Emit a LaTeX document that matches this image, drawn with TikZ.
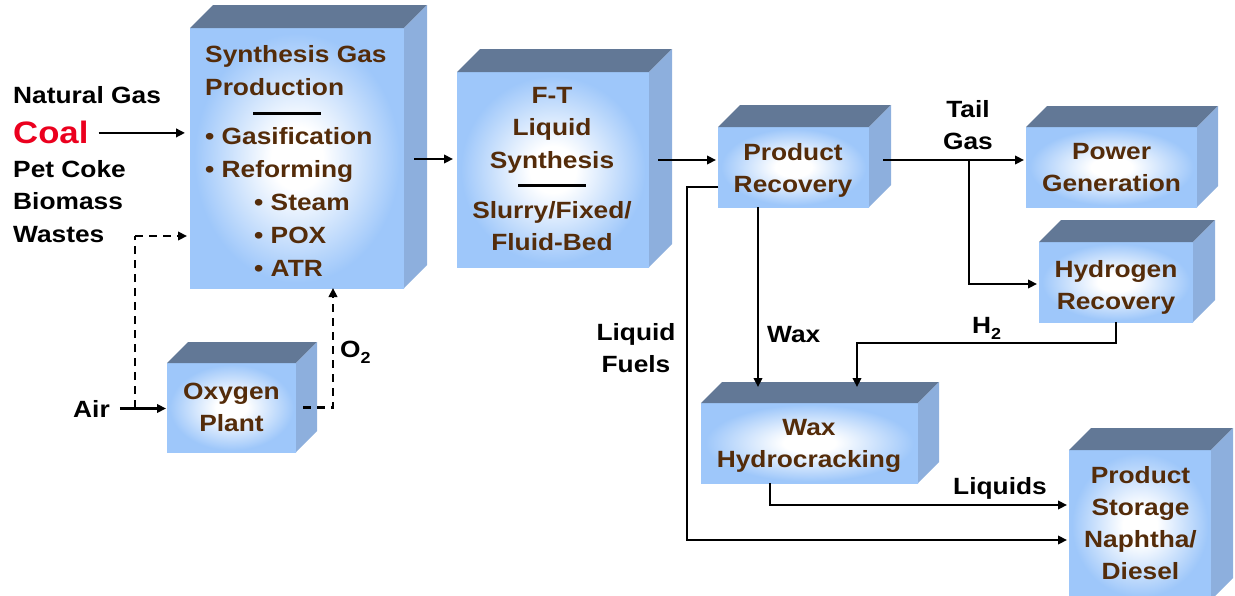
\documentclass[tikz,border=0pt]{standalone}
\usepackage{fontspec}
\setmainfont{Liberation Sans}[FakeStretch=1.12]
\usetikzlibrary{arrows.meta,calc,fit}
\definecolor{topc}{RGB}{98,120,150}
\definecolor{sidec}{RGB}{141,175,221}
\definecolor{frontc}{RGB}{158,199,250}
\definecolor{txtc}{RGB}{84,44,10}
\definecolor{coalred}{RGB}{235,0,30}
\pgfdeclareradialshading{frontshade}{\pgfpoint{0bp}{0bp}}{color(0bp)=(white); color(6bp)=(white); color(15bp)=(frontc!50!white); color(24bp)=(frontc); color(50bp)=(frontc)}
\tikzset{
  front/.style={shading=frontshade, draw=none, inner sep=0pt, outer sep=0pt},
  btxt/.style={font=\fontsize{23.5}{32}\selectfont\bfseries, text=txtc, align=center, inner sep=0pt},
  lbl/.style={font=\fontsize{23.5}{32}\selectfont\bfseries, text=black, inner sep=0pt},
  arr/.style={line width=2.5pt, -{Triangle[length=9pt,width=8.5pt]}},
  dsh/.style={line width=2.6pt, dash pattern=on 8pt off 6pt},
  rulel/.style={line width=3pt}
}
\newcommand\tdbox[6]{%
  \node[front, fit={(#2,#3) (#4,#5)}] (#1) {};
  \fill[topc] (#1.north west) -- ++(#6,-#6) -- ($(#1.north east)+(#6,-#6)$) -- (#1.north east) -- cycle;
  \fill[sidec] (#1.north east) -- ++(#6,-#6) -- ($(#1.south east)+(#6,-#6)$) -- (#1.south east) -- cycle;
}
\begin{document}
\begin{tikzpicture}[x=1pt,y=-1pt]
\useasboundingbox (0,0) rectangle (1235,595);
% boxes
\tdbox{SG}{190}{28}{404}{288}{23}
\tdbox{FT}{457}{72}{649}{267}{23}
\tdbox{PR}{718}{127}{869}{207}{22}
\tdbox{PG}{1026}{127}{1197}{207}{21}
\tdbox{HR}{1039}{242}{1193}{322}{22}
\tdbox{OP}{167}{363}{296}{452}{21}
\tdbox{WH}{701}{403}{918}{483}{21}
\tdbox{PS}{1069}{450}{1211}{600}{22}
% box texts
\node[btxt, align=left, anchor=north west, font=\fontsize{23.5}{33}\selectfont\bfseries] (sgt) at (205,45)
  {Synthesis Gas\\Production\\[16pt]• Gasification\\• Reforming\\\hspace*{49pt}• Steam\\\hspace*{49pt}• POX\\\hspace*{49pt}• ATR};
\draw[rulel] ($(SG.north west)+(63,85)$) -- ++(68,0);
\node[btxt, anchor=north, font=\fontsize{23.5}{32.5}\selectfont\bfseries] (ftt) at (552,87)
  {F-T\\Liquid\\Synthesis\\[17.5pt]Slurry/Fixed/\\Fluid-Bed};
\draw[rulel] ($(FT.north west)+(61,113)$) -- ++(68,0);
\node[btxt, anchor=north] (prt) at (793,143) {Product\\Recovery};
\node[btxt, anchor=north] (pgt) at (1111.5,143) {Power\\Generation};
\node[btxt, anchor=north] (hrt) at (1116,260) {Hydrogen\\Recovery};
\node[btxt, anchor=north] (opt) at (231.5,383) {Oxygen\\Plant};
\node[btxt, anchor=north] (wht) at (809,419) {Wax\\Hydrocracking};
\node[btxt, anchor=north] (pst) at (1140.5,466) {Product\\Storage\\Naphtha/\\Diesel};
% labels
\node[lbl, anchor=base west] (ng) at (13,103) {Natural Gas};
\node[lbl, anchor=base west, text=coalred, font=\fontsize{31}{32}\selectfont\bfseries] (coal) at (13,143) {Coal};
\node[lbl, anchor=north west, align=left, font=\fontsize{23.5}{32.5}\selectfont\bfseries] (feeds) at (13,160) {Pet Coke\\Biomass\\Wastes};
\node[lbl, anchor=base west] (air) at (73,417) {Air};
\node[lbl, anchor=base west] (o2) at (340,357) {O\raisebox{-6.5pt}{\fontsize{16}{16}\selectfont 2}};
\node[lbl, anchor=north, align=center] (tail) at (968,100) {Tail\\Gas};
\node[lbl, anchor=base west] (h2) at (972,333) {H\raisebox{-6.5pt}{\fontsize{16}{16}\selectfont 2}};
\node[lbl, anchor=base west] (wax) at (767,342) {Wax};
\node[lbl, anchor=north, align=center] (lf) at (636,323) {Liquid\\Fuels};
\node[lbl, anchor=base west] (liq) at (953,494) {Liquids};
% helper coordinates
\coordinate (r160) at (0,160);
\coordinate (dj) at (135,408);
\coordinate (dsin) at (187,236);
\coordinate (tb) at (969,160);
\coordinate (wxin1) at (758,387);
\coordinate (wxin2) at (857,387);
\coordinate (lfy) at (0,187);
\coordinate (lfc) at (687,540);
\coordinate (lqx) at (770,0);
\coordinate (lqy) at (0,505);
% connectors
\draw[arr] ($(coal.east)+(10,1)$) -- ($(coal.east -| SG.west)+(-5,1)$);
\draw[dsh] (dj) -- (dj |- dsin);
\draw[dsh, -{Triangle[length=9pt,width=8.5pt]}] (dj |- dsin) -- (dsin);
\draw[arr] ($(air.east)+(10,0)$) -- ($(air.east -| OP.west)+(-1,0)$);
\draw[dsh, -{Triangle[length=9pt,width=8.5pt]}] ($(OP.east)+(7,0)$) -| ($(SG.south west)+(143,0)$);
\draw[arr] ($(SG.east)+(10,1)$) -- ($(SG.east -| FT.west)+(-4,1)$);
\draw[arr] ($(FT.east |- r160)+(9,0)$) -- ($(PR.west |- r160)+(-2,0)$);
\draw[arr] ($(PR.east |- r160)+(14,0)$) -- ($(PG.west |- r160)+(-2,0)$);
\draw[arr] (tb) |- ($(HR.west)+(-2,2)$);
\draw[arr] (HR.south) -- ++(0,21) -| (wxin2);
\draw[arr] (PR.south -| wxin1) -- (wxin1);
\draw[arr] (PR.west |- lfy) -| (lfc) -- ($(PS.west |- lfc)+(-2,0)$);
\draw[arr] (WH.south -| lqx) |- ($(PS.west |- lqy)+(-2,0)$);
\end{tikzpicture}
\end{document}
